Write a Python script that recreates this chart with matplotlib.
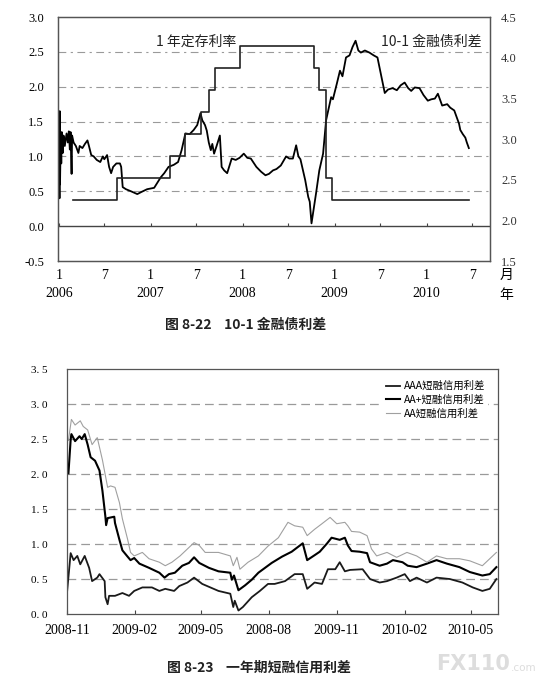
import numpy as np
import pandas as pd
import matplotlib
matplotlib.use('Agg')
import matplotlib.pyplot as plt
import matplotlib.dates as mdates

plt.rcParams['font.family'] = ['Noto Sans CJK SC', 'DejaVu Sans']

# ---------------- 图 8-22 数据 ----------------
spread_dates = [
    '2006-01-02', '2006-01-04', '2006-01-05', '2006-01-06', '2006-01-09', '2006-01-11',
    '2006-01-13', '2006-01-17', '2006-01-20', '2006-01-25', '2006-02-01', '2006-02-06',
    '2006-02-10', '2006-02-14', '2006-02-17', '2006-02-21', '2006-02-23', '2006-03-01',
    '2006-03-10', '2006-03-20', '2006-03-25', '2006-04-05', '2006-04-15', '2006-04-25',
    '2006-05-01', '2006-05-10', '2006-05-20', '2006-06-01', '2006-06-15', '2006-06-25',
    '2006-07-01', '2006-07-12', '2006-07-20', '2006-07-28', '2006-08-05', '2006-08-18',
    '2006-09-01', '2006-09-06', '2006-09-12', '2006-09-25', '2006-10-15', '2006-11-09',
    '2006-11-25', '2006-12-18', '2007-01-15', '2007-01-27', '2007-02-10', '2007-02-24',
    '2007-03-13', '2007-04-03', '2007-04-20', '2007-05-04', '2007-05-19', '2007-06-05',
    '2007-06-21', '2007-07-05', '2007-07-18', '2007-07-25', '2007-08-05', '2007-08-12',
    '2007-08-20', '2007-08-28', '2007-09-03', '2007-09-10', '2007-09-20', '2007-10-03',
    '2007-10-10', '2007-10-20', '2007-11-01', '2007-11-19', '2007-12-05', '2007-12-20',
    '2008-01-06', '2008-01-20', '2008-02-03', '2008-02-25', '2008-03-15', '2008-04-01',
    '2008-04-15', '2008-05-01', '2008-05-15', '2008-06-01', '2008-06-22', '2008-07-05',
    '2008-07-19', '2008-08-01', '2008-08-10', '2008-08-18', '2008-09-06', '2008-09-18',
    '2008-09-24', '2008-10-01', '2008-10-10', '2008-10-19', '2008-11-01', '2008-11-16',
    '2008-11-28', '2008-12-18', '2008-12-25', '2009-01-10', '2009-01-22', '2009-02-01',
    '2009-02-15', '2009-03-01', '2009-03-13', '2009-03-25', '2009-04-05', '2009-04-15',
    '2009-05-01', '2009-05-19', '2009-06-05', '2009-06-20', '2009-07-03', '2009-07-19',
    '2009-08-01', '2009-08-19', '2009-09-05', '2009-09-20', '2009-10-06', '2009-10-20',
    '2009-11-01', '2009-11-15', '2009-12-04', '2009-12-20', '2010-01-06', '2010-01-20',
    '2010-02-03', '2010-02-15', '2010-03-04', '2010-03-24', '2010-04-05', '2010-04-21',
    '2010-05-10', '2010-05-15', '2010-05-25', '2010-06-04', '2010-06-10', '2010-06-18']
spread_vals = [
    1.20, 0.40, 1.65, 0.60, 1.30, 0.90,
    1.35, 1.05, 1.30, 1.15, 1.33, 1.20,
    1.36, 1.10, 1.35, 0.75, 1.30, 1.20,
    1.15, 1.05, 1.15, 1.12, 1.18, 1.23,
    1.15, 1.02, 1.00, 0.95, 0.92, 1.00,
    0.96, 1.02, 0.85, 0.76, 0.85, 0.90,
    0.90, 0.85, 0.56, 0.53, 0.50, 0.46,
    0.49, 0.53, 0.55, 0.62, 0.70, 0.76,
    0.85, 0.88, 0.92, 1.09, 1.33, 1.32,
    1.38, 1.45, 1.62, 1.52, 1.45, 1.37,
    1.20, 1.09, 1.18, 1.04, 1.15, 1.30,
    0.85, 0.80, 0.76, 0.97, 0.95, 0.98,
    1.04, 0.98, 0.97, 0.85, 0.78, 0.73,
    0.75, 0.80, 0.82, 0.87, 1.00, 0.97,
    0.97, 1.16, 1.00, 0.96, 0.66, 0.42,
    0.35, 0.04, 0.25, 0.47, 0.80, 1.04,
    1.52, 1.85, 1.82, 2.05, 2.23, 2.15,
    2.42, 2.45, 2.57, 2.66, 2.52, 2.49,
    2.52, 2.49, 2.45, 2.42, 2.19, 1.91,
    1.96, 1.98, 1.95, 2.02, 2.06, 1.98,
    1.94, 1.99, 1.98, 1.88, 1.80, 1.82,
    1.83, 1.90, 1.73, 1.75, 1.70, 1.66,
    1.47, 1.38, 1.32, 1.27, 1.20, 1.12]

deposit_dates = ['2006-02-25', '2006-08-19', '2007-03-18', '2007-05-19', '2007-07-21',
                 '2007-08-22', '2007-09-15', '2007-12-21', '2008-10-09', '2008-10-30',
                 '2008-11-27', '2008-12-23', '2010-06-18']
deposit_vals = [2.25, 2.52, 2.79, 3.06, 3.33, 3.60, 3.87, 4.14, 3.87, 3.60, 2.52, 2.25, 2.25]

top_tick_dates = ['2006-01-01', '2006-07-01', '2007-01-01', '2007-07-01', '2008-01-01',
                  '2008-07-01', '2009-01-01', '2009-07-01', '2010-01-01', '2010-07-01']
top_tick_labels = ['1\n2006', '7\n', '1\n2007', '7\n', '1\n2008',
                   '7\n', '1\n2009', '7\n', '1\n2010', '7\n']

# ---------------- 图 8-23 数据 ----------------
aaa_dates = [
    '2008-11-01', '2008-11-06', '2008-11-10', '2008-11-15', '2008-11-19', '2008-11-25',
    '2008-12-01', '2008-12-05', '2008-12-12', '2008-12-15', '2008-12-22', '2008-12-23',
    '2008-12-26', '2008-12-28', '2009-01-05', '2009-01-15', '2009-01-24', '2009-01-31',
    '2009-02-11', '2009-02-24', '2009-03-06', '2009-03-14', '2009-03-26', '2009-04-02',
    '2009-04-13', '2009-04-22', '2009-05-03', '2009-05-14', '2009-05-25', '2009-06-10',
    '2009-06-14', '2009-06-16', '2009-06-21', '2009-06-27', '2009-07-09', '2009-07-20',
    '2009-07-31', '2009-08-09', '2009-08-23', '2009-09-05', '2009-09-16', '2009-09-22',
    '2009-10-02', '2009-10-12', '2009-10-20', '2009-10-30', '2009-11-05', '2009-11-12',
    '2009-11-19', '2009-12-06', '2009-12-16', '2009-12-29', '2010-01-08', '2010-01-21',
    '2010-02-01', '2010-02-08', '2010-02-17', '2010-03-03', '2010-03-16', '2010-04-03',
    '2010-04-20', '2010-05-04', '2010-05-17', '2010-05-27', '2010-06-05']
aaa_vals = [
    0.30, 0.87, 0.77, 0.83, 0.71, 0.83,
    0.66, 0.47, 0.52, 0.57, 0.47, 0.24,
    0.14, 0.26, 0.26, 0.30, 0.26, 0.33,
    0.38, 0.38, 0.33, 0.36, 0.33, 0.40,
    0.45, 0.52, 0.43, 0.38, 0.33, 0.29,
    0.10, 0.19, 0.05, 0.10, 0.24, 0.33,
    0.43, 0.43, 0.47, 0.57, 0.57, 0.36,
    0.45, 0.43, 0.64, 0.64, 0.74, 0.61,
    0.63, 0.64, 0.50, 0.45, 0.47, 0.52,
    0.57, 0.47, 0.52, 0.45, 0.52, 0.50,
    0.45, 0.38, 0.33, 0.36, 0.50]

aap_dates = [
    '2008-11-03', '2008-11-06', '2008-11-07', '2008-11-12', '2008-11-18', '2008-11-21',
    '2008-11-25', '2008-11-29', '2008-12-03', '2008-12-09', '2008-12-15', '2008-12-19',
    '2008-12-23', '2008-12-24', '2008-12-26', '2009-01-04', '2009-01-05', '2009-01-11',
    '2009-01-15', '2009-01-22', '2009-01-26', '2009-01-31', '2009-02-07', '2009-02-20',
    '2009-03-06', '2009-03-13', '2009-03-19', '2009-03-27', '2009-04-06', '2009-04-15',
    '2009-04-22', '2009-04-29', '2009-05-12', '2009-05-25', '2009-06-10', '2009-06-12',
    '2009-06-15', '2009-06-21', '2009-06-30', '2009-07-09', '2009-07-18', '2009-08-05',
    '2009-08-19', '2009-09-01', '2009-09-16', '2009-09-22', '2009-10-02', '2009-10-09',
    '2009-10-19', '2009-10-25', '2009-11-05', '2009-11-12', '2009-11-16', '2009-11-21',
    '2009-12-02', '2009-12-12', '2009-12-16', '2009-12-29', '2010-01-08', '2010-01-16',
    '2010-01-29', '2010-02-05', '2010-02-17', '2010-03-03', '2010-03-16', '2010-03-30',
    '2010-04-16', '2010-04-30', '2010-05-17', '2010-05-27', '2010-06-05']
aap_vals = [
    2.01, 2.49, 2.57, 2.47, 2.54, 2.50,
    2.57, 2.42, 2.24, 2.19, 2.05, 1.76,
    1.39, 1.27, 1.37, 1.39, 1.30, 1.06,
    0.91, 0.82, 0.77, 0.80, 0.72, 0.66,
    0.59, 0.52, 0.57, 0.59, 0.69, 0.73,
    0.81, 0.73, 0.66, 0.61, 0.59, 0.49,
    0.55, 0.34, 0.41, 0.49, 0.59, 0.73,
    0.82, 0.89, 1.01, 0.77, 0.84, 0.89,
    1.01, 1.09, 1.06, 1.09, 0.98, 0.90,
    0.89, 0.87, 0.74, 0.69, 0.72, 0.77,
    0.74, 0.69, 0.67, 0.72, 0.77, 0.72,
    0.67, 0.60, 0.55, 0.57, 0.67]

aa_dates = [
    '2008-11-03', '2008-11-07', '2008-11-12', '2008-11-19', '2008-11-23', '2008-11-29',
    '2008-12-05', '2008-12-12', '2008-12-19', '2008-12-26', '2008-12-30', '2009-01-05',
    '2009-01-11', '2009-01-15', '2009-01-22', '2009-01-26', '2009-01-31', '2009-02-11',
    '2009-02-20', '2009-03-06', '2009-03-14', '2009-03-23', '2009-04-03', '2009-04-13',
    '2009-04-22', '2009-04-29', '2009-05-07', '2009-05-25', '2009-06-10', '2009-06-14',
    '2009-06-19', '2009-06-23', '2009-07-04', '2009-07-18', '2009-07-31', '2009-08-14',
    '2009-08-27', '2009-09-05', '2009-09-16', '2009-09-22', '2009-10-02', '2009-10-12',
    '2009-10-23', '2009-11-01', '2009-11-12', '2009-11-16', '2009-11-21', '2009-12-02',
    '2009-12-12', '2009-12-18', '2009-12-25', '2010-01-08', '2010-01-21', '2010-02-04',
    '2010-02-17', '2010-03-03', '2010-03-16', '2010-03-30', '2010-04-16', '2010-04-30',
    '2010-05-17', '2010-05-27', '2010-06-05']
aa_vals = [
    2.48, 2.78, 2.70, 2.76, 2.68, 2.63,
    2.42, 2.52, 2.20, 1.81, 1.83, 1.81,
    1.59, 1.36, 1.07, 0.88, 0.83, 0.88,
    0.79, 0.74, 0.69, 0.74, 0.83, 0.93,
    1.02, 0.98, 0.88, 0.88, 0.83, 0.69,
    0.81, 0.64, 0.74, 0.83, 0.97, 1.09,
    1.31, 1.26, 1.24, 1.12, 1.21, 1.29,
    1.38, 1.29, 1.31, 1.26, 1.18, 1.17,
    1.12, 0.93, 0.83, 0.88, 0.81, 0.88,
    0.83, 0.74, 0.83, 0.79, 0.79, 0.76,
    0.69, 0.79, 0.88]

bot_tick_dates = ['2008-11-01', '2009-02-01', '2009-05-01', '2009-08-01',
                  '2009-11-01', '2010-02-01', '2010-05-01']
bot_tick_labels = ['2008-11', '2009-02', '2009-05', '2008-08',
                   '2009-11', '2010-02', '2010-05']
bot_y_ticks = [0.0, 0.5, 1.0, 1.5, 2.0, 2.5, 3.0, 3.5]
bot_y_labels = ['0. 0', '0. 5', '1. 0', '1. 5', '2. 0', '2. 5', '3. 0', '3. 5']

NUM_FONT = 'Liberation Serif'
FRAME = '#555555'
GRID = '#9a9a9a'

fig = plt.figure(figsize=(5.4, 6.84), dpi=100)

# ================= 图 8-22 =================
ax1 = fig.add_axes([0.1074, 0.6184, 0.8, 0.3567])
ax2 = ax1.twinx()

ax1.plot(pd.to_datetime(spread_dates), spread_vals, color='black', lw=1.3)
ax2.plot(pd.to_datetime(deposit_dates), deposit_vals, color='#222222', lw=1.2,
         drawstyle='steps-post')

ax1.set_xlim(pd.Timestamp('2005-12-29'), pd.Timestamp('2010-09-10'))
ax1.set_ylim(-0.5, 3.0)
ax2.set_ylim(1.5, 4.5)

ax1.set_yticks(np.arange(-0.5, 3.01, 0.5))
ax1.yaxis.set_major_formatter(matplotlib.ticker.FormatStrFormatter('%.1f'))
ax2.set_yticks(np.arange(1.5, 4.51, 0.5))
ax2.yaxis.set_major_formatter(matplotlib.ticker.FormatStrFormatter('%.1f'))

for v in np.arange(0.5, 2.51, 0.5):
    ax1.axhline(v, color=GRID, lw=0.8, ls=(0, (7, 4, 2, 4)), zorder=0)
ax1.axhline(0, color='#444444', lw=1.0, zorder=1)

top_ticks = pd.to_datetime(top_tick_dates)
ax1.vlines(top_ticks, 0, 0.05, color='#444444', lw=0.8)
ax1.set_xticks(top_ticks)
ax1.set_xticklabels(top_tick_labels, linespacing=1.5)
ax1.tick_params(axis='x', length=0, pad=6, labelsize=10, labelfontfamily=NUM_FONT)
ax1.tick_params(axis='y', length=0, pad=10, labelsize=9, labelfontfamily=NUM_FONT)
ax2.tick_params(axis='y', length=0, pad=8, labelsize=9, labelfontfamily=NUM_FONT,
                labelcolor='#333333')

for ax in (ax1, ax2):
    for s in ax.spines.values():
        s.set_color(FRAME)
        s.set_linewidth(0.9)

ax1.text(0.32, 0.898, '1 年定存利率', transform=ax1.transAxes, ha='center', va='center',
         fontsize=10, color='#222222')
ax1.text(0.863, 0.898, '10-1 金融债利差', transform=ax1.transAxes, ha='center',
         va='center', fontsize=10, color='#222222')
ax1.text(1.038, -0.058, '月', transform=ax1.transAxes, ha='center', va='center', fontsize=10)
ax1.text(1.038, -0.14, '年', transform=ax1.transAxes, ha='center', va='center', fontsize=10)

fig.text(0.455, 1 - 325 / 684, '图 8-22    10-1 金融债利差', ha='center', va='center',
         fontsize=10, fontweight='bold', color='#222222')

# ================= 图 8-23 =================
ax3 = fig.add_axes([0.124, 0.1023, 0.798, 0.3582])

ax3.plot(pd.to_datetime(aaa_dates), aaa_vals, color='#1a1a1a', lw=1.3,
         label='AAA短融信用利差')
ax3.plot(pd.to_datetime(aap_dates), aap_vals, color='black', lw=1.5,
         label='AA+短融信用利差')
ax3.plot(pd.to_datetime(aa_dates), aa_vals, color='#a0a0a0', lw=0.8,
         label='AA短融信用利差')

ax3.set_xlim(pd.Timestamp('2008-11-01'), pd.Timestamp('2010-06-07'))
ax3.set_ylim(0, 3.5)
ax3.set_yticks(bot_y_ticks)
ax3.set_yticklabels(bot_y_labels)
for v in bot_y_ticks[1:-1]:
    ax3.axhline(v, color=GRID, lw=0.9, ls=(0, (7, 4)), zorder=0)

ax3.set_xticks(pd.to_datetime(bot_tick_dates))
ax3.set_xticklabels(bot_tick_labels)
ax3.tick_params(axis='x', direction='in', length=3, color='#444444', pad=7,
                labelsize=10, labelfontfamily=NUM_FONT)
ax3.tick_params(axis='y', length=0, pad=14, labelsize=8, labelfontfamily=NUM_FONT)
for s in ax3.spines.values():
    s.set_color(FRAME)
    s.set_linewidth(0.9)

leg = ax3.legend(loc='upper right', bbox_to_anchor=(0.99, 0.985), fontsize=7.5,
                 handlelength=1.3, handletextpad=0.4, labelspacing=0.35,
                 borderpad=0.3, fancybox=False)
leg.get_frame().set_edgecolor('none')
leg.get_frame().set_facecolor('white')
leg.get_frame().set_alpha(1)

fig.text(0.48, 1 - 668 / 684, '图 8-23    一年期短融信用利差', ha='center', va='center',
         fontsize=10, fontweight='bold', color='#222222')

# 水印
fig.text(0.944, 1 - 664 / 684, 'FX110', ha='right', va='center', fontsize=15,
         fontweight='bold', color='#dddddd', family='DejaVu Sans')
fig.text(0.946, 1 - 668 / 684, '.com', ha='left', va='center', fontsize=7.5,
         color='#dddddd', family='DejaVu Sans')

fig.savefig('out.png', dpi=100)
